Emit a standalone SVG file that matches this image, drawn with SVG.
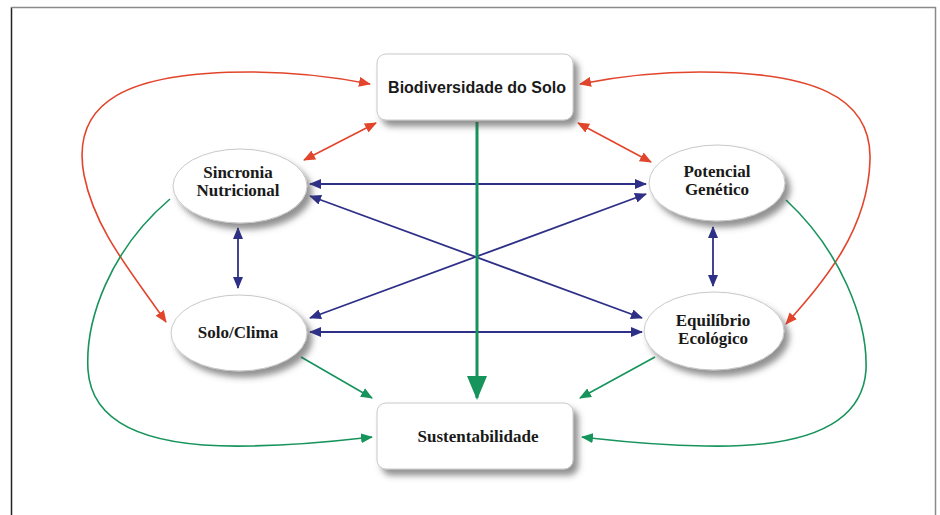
<svg xmlns="http://www.w3.org/2000/svg" width="940" height="515" viewBox="0 0 940 515">
  <style>
    .box { fill: #ffffff; stroke: #c8c8c8; stroke-width: 1; filter: url(#shadow); }
    .oval { fill: #ffffff; stroke: #c8c8c8; stroke-width: 1; filter: url(#shadow); }
    .lbl { font-family: "Liberation Serif", "Times New Roman", serif; font-weight: bold; font-size: 17px; fill: #1a1a1a; text-anchor: middle; }
    .lbl-sans { font-family: "Liberation Sans", Arial, sans-serif; font-weight: bold; font-size: 16px; fill: #1a1a1a; text-anchor: middle; }
    .red { fill: none; stroke: #e2452b; stroke-width: 1.6; }
    .blue { fill: none; stroke: #2e3087; stroke-width: 1.8; }
    .green { fill: none; stroke: #17935c; stroke-width: 1.6; }
    .green-main { fill: none; stroke: #17935c; stroke-width: 3; }
  </style>
  <defs>
    <filter id="shadow" x="-20%" y="-20%" width="150%" height="160%">
      <feDropShadow dx="5" dy="6" stdDeviation="3" flood-color="#4a4a4a" flood-opacity="0.6"/>
    </filter>
    <marker id="arrRed" markerUnits="userSpaceOnUse" markerWidth="12" markerHeight="10" refX="11" refY="5" orient="auto-start-reverse">
      <path d="M0,0 L12,5 L0,10 Z" fill="#e2452b"/>
    </marker>
    <marker id="arrBlue" markerUnits="userSpaceOnUse" markerWidth="12" markerHeight="10" refX="11" refY="5" orient="auto-start-reverse">
      <path d="M0,0 L12,5 L0,10 Z" fill="#2e3087"/>
    </marker>
    <marker id="arrGreen" markerUnits="userSpaceOnUse" markerWidth="12" markerHeight="10" refX="11" refY="5" orient="auto-start-reverse">
      <path d="M0,0 L12,5 L0,10 Z" fill="#17935c"/>
    </marker>
    <marker id="arrGreenBig" markerUnits="userSpaceOnUse" markerWidth="24" markerHeight="20" refX="22" refY="10" orient="auto">
      <path d="M0,0 L24,10 L0,20 Z" fill="#17935c"/>
    </marker>
  </defs>

  <rect width="940" height="515" fill="#ffffff"/>

  <!-- page frame: dark left edge, grey top and right edges -->
  <g id="frame">
    <line x1="11.5" y1="7" x2="11.5" y2="515" stroke="#222222" stroke-width="1.5"/>
    <line x1="11" y1="7.5" x2="936" y2="7.5" stroke="#8a8a8a" stroke-width="1.5"/>
    <line x1="935.5" y1="7" x2="935.5" y2="515" stroke="#8a8a8a" stroke-width="1.5"/>
  </g>

  <g id="connectors">
    <!-- outer red loops -->
    <path class="red" d="M166,322 C130,270 95,230 84,175 C70,100 130,72 250,72 C300,72 340,78 370,84" marker-start="url(#arrRed)" marker-end="url(#arrRed)"/>
    <path class="red" d="M786,324 C825,280 868,230 870,160 C872,95 810,72 700,72 C650,72 610,78 580,84" marker-start="url(#arrRed)" marker-end="url(#arrRed)"/>
    <!-- red links to the upper ovals -->
    <path class="red" d="M304,160 L376,123" marker-start="url(#arrRed)" marker-end="url(#arrRed)"/>
    <path class="red" d="M578,123 L651,162" marker-start="url(#arrRed)" marker-end="url(#arrRed)"/>

    <!-- blue links between the four ovals -->
    <path class="blue" d="M310,184 L646,184" marker-start="url(#arrBlue)" marker-end="url(#arrBlue)"/>
    <path class="blue" d="M310,196 L642,318" marker-start="url(#arrBlue)" marker-end="url(#arrBlue)"/>
    <path class="blue" d="M310,318 L646,194" marker-start="url(#arrBlue)" marker-end="url(#arrBlue)"/>
    <path class="blue" d="M310,332 L642,332" marker-start="url(#arrBlue)" marker-end="url(#arrBlue)"/>
    <path class="blue" d="M238,228 L238,288" marker-start="url(#arrBlue)" marker-end="url(#arrBlue)"/>
    <path class="blue" d="M713,227 L713,286" marker-start="url(#arrBlue)" marker-end="url(#arrBlue)"/>

    <!-- green: central axis and feeds into Sustentabilidade -->
    <path class="green-main" d="M477,122 L477,398" marker-end="url(#arrGreenBig)"/>
    <path class="green" d="M301,357 L372,398" marker-end="url(#arrGreen)"/>
    <path class="green" d="M655,357 L580,398" marker-end="url(#arrGreen)"/>
    <path class="green" d="M170,199 C110,250 85,320 88,370 C92,430 160,448 250,446 C310,445 345,440 372,437" marker-end="url(#arrGreen)"/>
    <path class="green" d="M786,200 C840,250 868,320 866,370 C862,430 795,448 705,446 C645,445 610,440 582,437" marker-end="url(#arrGreen)"/>
  </g>

  <g id="biodiversidade">
    <rect class="box" x="377" y="54" width="196" height="66" rx="9"/>
    <text class="lbl-sans" x="477" y="93">Biodiversidade do Solo</text>
  </g>

  <g id="sincronia">
    <ellipse class="oval" cx="240" cy="186" rx="67" ry="37"/>
    <text class="lbl" x="238" y="178">Sincronia</text>
    <text class="lbl" x="238" y="196">Nutricional</text>
  </g>

  <g id="potencial">
    <ellipse class="oval" cx="717" cy="183" rx="68" ry="38"/>
    <text class="lbl" x="717" y="177">Potencial</text>
    <text class="lbl" x="717" y="195">Genético</text>
  </g>

  <g id="solo-clima">
    <ellipse class="oval" cx="239" cy="333" rx="68" ry="38"/>
    <text class="lbl" x="238" y="338">Solo/Clima</text>
  </g>

  <g id="equilibrio">
    <ellipse class="oval" cx="714" cy="331" rx="70" ry="39"/>
    <text class="lbl" x="713" y="326">Equilíbrio</text>
    <text class="lbl" x="713" y="344">Ecológico</text>
  </g>

  <g id="sustentabilidade">
    <rect class="box" x="377" y="403" width="196" height="66" rx="9"/>
    <text class="lbl" x="478" y="442">Sustentabilidade</text>
  </g>
</svg>
